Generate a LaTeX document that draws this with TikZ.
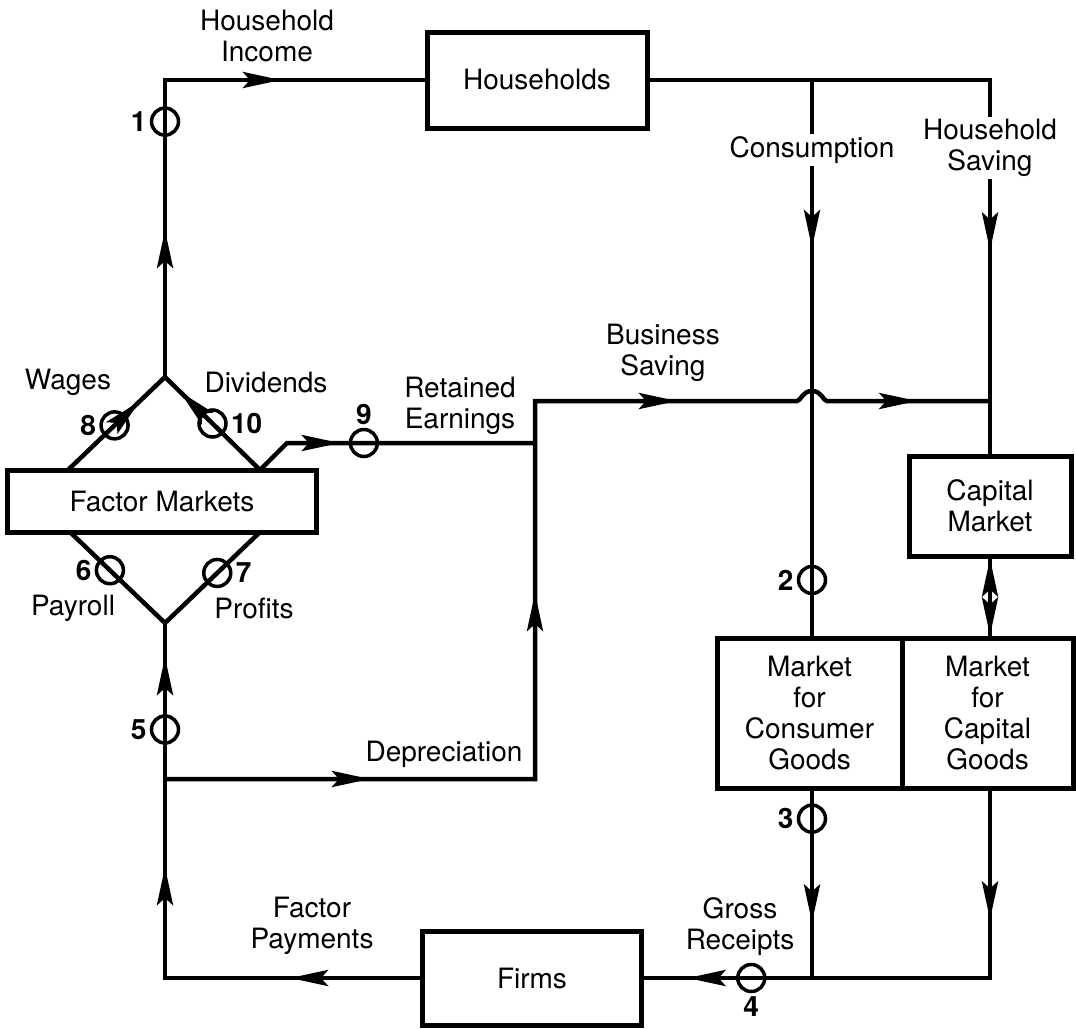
\documentclass[tikz,border=0pt]{standalone}
\usepackage{fontspec}
\setmainfont{TeX Gyre Heros}
\usetikzlibrary{arrows.meta,decorations.markings}

\newcommand\flowfont{\fontsize{28}{31}\selectfont}

\tikzset{
  bigtip/.tip={Stealth[length=38pt,width=16pt,inset=7pt]},
  tipat/.style={postaction={decorate,decoration={markings,mark=at position #1 with {\arrow{bigtip}}}}},
  tipback/.style={postaction={decorate,decoration={markings,mark=at position #1 with {\arrowreversed{bigtip}}}}}
}

\begin{document}
\begin{tikzpicture}[
    x=1pt,y=-1pt,
    line width=4.5pt,
    font=\flowfont,
    box/.style={draw, line width=5pt, align=center, inner sep=0pt},
    valve/.style={draw, circle, line width=3.5pt, minimum size=27pt, inner sep=0pt, label distance=2pt},
    flowlabel/.style={align=center, inner sep=1pt},
    gaplabel/.style={flowlabel, fill=white, inner sep=2pt},
    every label/.style={font=\flowfont\bfseries, inner sep=1pt}
]
\useasboundingbox (0,0) rectangle (1076,1028);

% sectors and markets
\node[box, minimum width=220pt, minimum height=96pt] (households) at (537,80) {Households};
\node[box, minimum width=309pt, minimum height=62pt] (factor) at (162,501) {Factor Markets};
\node[box, minimum width=219pt, minimum height=94pt] (firms) at (532,978) {Firms};
\node[box, minimum width=162pt, minimum height=100pt] (capmkt) at (990,506) {Capital\\Market};
\node[box, minimum width=185pt, minimum height=150pt] (consgoods) at (809.5,713) {Market\\for\\Consumer\\Goods};
\node[box, minimum width=171pt, minimum height=150pt] (capgoods) at (987.5,713) {Market\\for\\Capital\\Goods};

% junctions
\coordinate (upapex) at (165,377);
\coordinate (lowapex) at (165,623);
\coordinate (wfoot) at (68,470);
\coordinate (dfoot) at (260,470);
\coordinate (pfoot) at (70,532);
\coordinate (rfoot) at (260,532);
\coordinate (csplit) at (812,80);
\coordinate (hssplit) at (990,80);
\coordinate (depsplit) at (165,779);
\coordinate (retjoin) at (535,443);
\coordinate (bsjoin) at (990,401);
\coordinate (grjoin) at (812,978);

% income to households
\draw[tipat=147pt, tipat=413pt] (upapex) -- node[valve, pos=.86, label=left:1] {} (upapex |- households.west) -- (households.west);

% consumption and saving
\draw[tipat=511pt] (households.east) -- (hssplit) -- (capmkt.north);
\draw[tipat=168pt] (csplit) -- node[valve, pos=.9, label=left:2] {} (csplit |- consgoods.north);
\draw[tipback=0, tipat=1] (capmkt.south) -- (capmkt.south |- capgoods.north);

% gross receipts
\draw[tipat=132pt] (consgoods.south -| csplit) -- node[valve, pos=.15, label=left:3] {} (grjoin);
\draw[tipat=129pt, tipat=490pt] (capgoods.south -| hssplit) -- (hssplit |- grjoin) -- node[valve, pos=.69, label=below:4] {} (firms.east);

% factor payments
\draw[tipat=130pt, tipat=366pt, tipat=576pt] (firms.west) -- (firms.west -| lowapex) -- node[valve, pos=.7, label=left:5] {} (lowapex);
\draw (pfoot) -- node[valve, pos=.42, label=left:6] {} (lowapex) -- node[valve, pos=.55, label=right:7] {} (rfoot);

% wages, dividends, retained earnings
\draw[tipat=99pt] (wfoot) -- node[valve, pos=.48, label=left:8] {} (upapex);
\draw[tipat=112pt] (dfoot) -- node[valve, pos=.5, label=right:10] {} (upapex);
\draw[tipat=91pt] (dfoot) -- (287,443) -- node[valve, pos=.31, label=above:9] {} (retjoin);

% depreciation and business saving
\draw[tipat=205pt, tipat=556pt, tipat=890pt, tipat=1138pt] (depsplit) -- (depsplit -| retjoin) -- (retjoin |- bsjoin) -- (797,401)
  .. controls (801,401) and (802,391) .. (812,391) .. controls (822,391) and (823,401) .. (827,401) -- (bsjoin);

% flow labels
\node[flowlabel] (incomelbl) at (267,36) {Household\\Income};
\node[gaplabel] (conslbl) at (812,150) {Consumption};
\node[gaplabel] (hsavlbl) at (990,148) {Household\\Saving};
\node[flowlabel] (bsavlbl) at (663,353) {Business\\Saving};
\node[flowlabel] (retlbl) at (460,406) {Retained\\Earnings};
\node[flowlabel] (wageslbl) at (68,382) {Wages};
\node[flowlabel] (divlbl) at (266,382) {Dividends};
\node[flowlabel] (paylbl) at (73,608) {Payroll};
\node[flowlabel] (proflbl) at (254,608) {Profits};
\node[flowlabel] (deplbl) at (444,754) {Depreciation};
\node[flowlabel] (fpaylbl) at (312,926) {Factor\\Payments};
\node[flowlabel] (grlbl) at (740,927) {Gross\\Receipts};
\end{tikzpicture}
\end{document}
